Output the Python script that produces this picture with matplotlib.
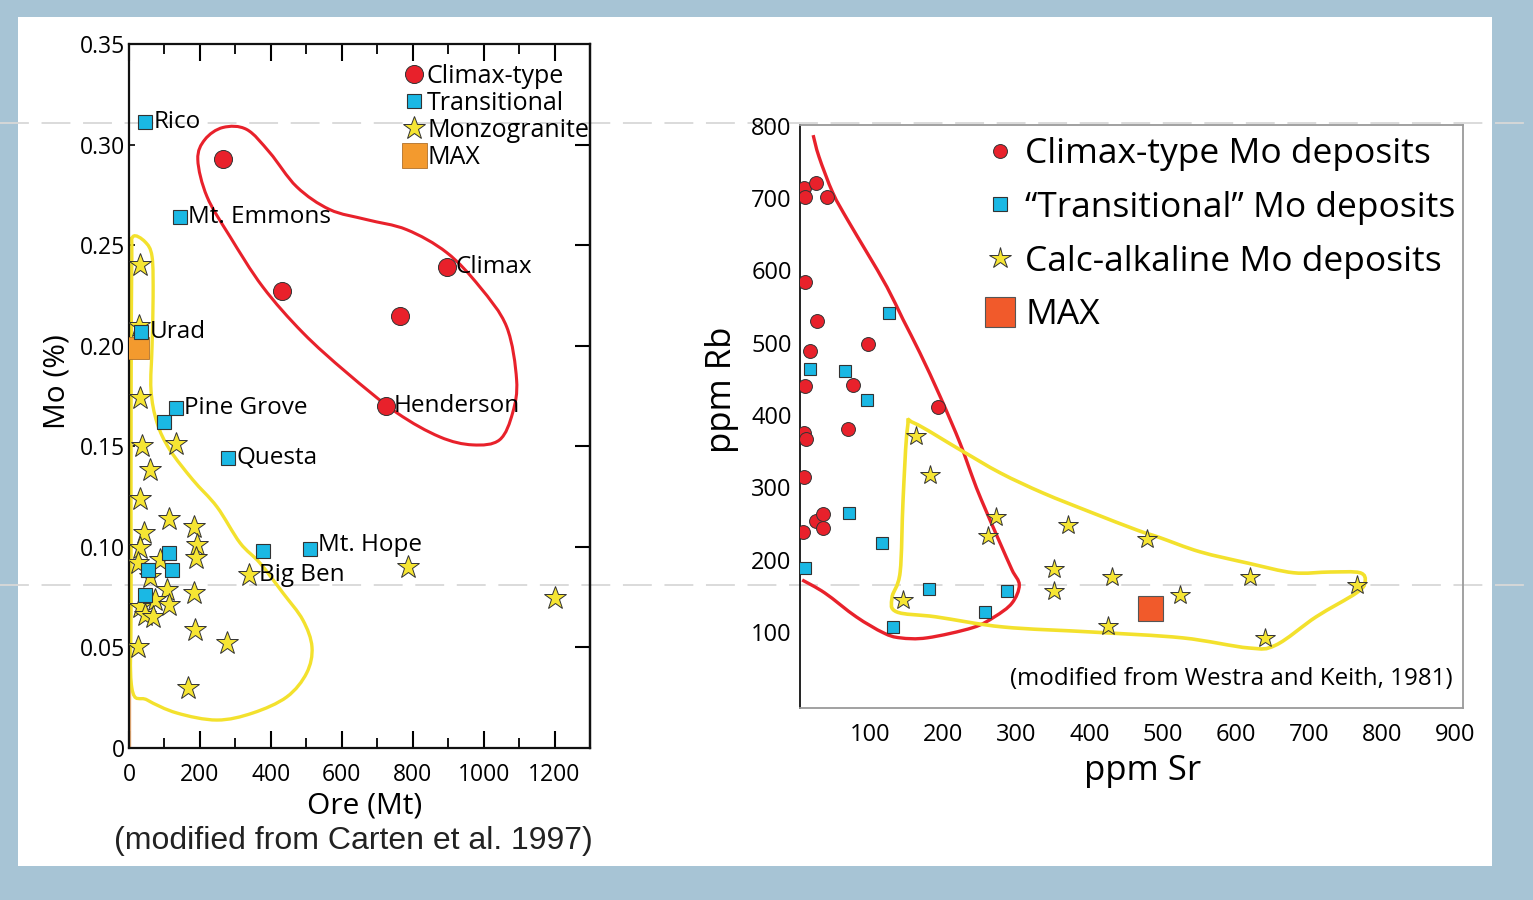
import matplotlib
matplotlib.use("Agg")
import matplotlib.pyplot as plt
from matplotlib.lines import Line2D
from matplotlib.patches import Rectangle, PathPatch
from matplotlib.path import Path

# ---------------- data: left panel (Mo grade vs ore tonnage) ----------------
climax_ore = [265, 431, 763, 896, 724]
climax_mo = [0.293, 0.227, 0.215, 0.239, 0.170]
climax_names = ["", "", "", "Climax", "Henderson"]

trans_ore = [45, 144, 34, 132, 99, 279, 377, 510, 113, 54, 121, 45]
trans_mo = [0.311, 0.264, 0.207, 0.169, 0.162, 0.144, 0.098, 0.099, 0.097, 0.0886, 0.0886, 0.076]
trans_names = ["Rico", "Mt. Emmons", "Urad", "Pine Grove", "", "Questa", "", "Mt. Hope", "", "", "", ""]

monzo_ore = [31, 28, 31, 37, 132, 59, 31, 42, 113, 183, 31, 192, 189, 25, 87, 59, 107, 183,
             31, 73, 45, 68, 113, 186, 276, 25, 166, 338, 786, 1200]
monzo_mo = [0.240, 0.210, 0.174, 0.150, 0.151, 0.138, 0.124, 0.107, 0.114, 0.110, 0.0995, 0.101,
            0.0945, 0.092, 0.0935, 0.085, 0.0786, 0.0771, 0.0701, 0.0736, 0.0662, 0.0652, 0.0711,
            0.0587, 0.0522, 0.0502, 0.0299, 0.0861, 0.090, 0.0746]
monzo_names = [""] * 27 + ["Big Ben", "", ""]

max_ore = [25]
max_mo = [0.199]

# hand-drawn outlines (data units)
red_loop_ore = [214, 265, 332, 397, 473, 566, 670, 783, 896, 989, 1065, 1093, 1082, 1045, 969,
                876, 755, 614, 490, 377, 285, 220, 194]
red_loop_mo = [0.3025, 0.3085, 0.3075, 0.296, 0.279, 0.2677, 0.2627, 0.2577, 0.2463, 0.2293,
               0.2094, 0.1831, 0.1667, 0.1532, 0.1507, 0.1547, 0.1667, 0.1866, 0.2065, 0.2293,
               0.2542, 0.2741, 0.2925]
yel_loop_ore = [11, 45, 65, 68, 65, 62, 79, 115, 180, 248, 313, 369, 434, 490, 516, 501, 445,
                349, 248, 135, 51, 8, 6, 6, 8]
yel_loop_mo = [0.2542, 0.2517, 0.2443, 0.2244, 0.1995, 0.1781, 0.1617, 0.1483, 0.1333, 0.1199,
               0.102, 0.092, 0.0771, 0.0637, 0.0502, 0.0373, 0.0254, 0.0174, 0.0139, 0.0174,
               0.0239, 0.0299, 0.0736, 0.1731, 0.2428]

x_ticks_left = [0, 200, 400, 600, 800, 1000, 1200]
y_ticks_left = [0, 0.05, 0.10, 0.15, 0.20, 0.25, 0.30, 0.35]
y_ticklabels_left = ["0", "0.05", "0.10", "0.15", "0.20", "0.25", "0.30", "0.35"]

# ---------------- data: right panel (Rb vs Sr) ----------------
cl_sr = [10, 26, 11, 41, 11, 27, 17, 97, 11, 77, 193, 70, 10, 12, 10, 8, 26, 36, 36]
cl_rb = [714, 721, 702, 702, 584, 530, 489, 498, 440, 442, 411, 381, 375, 367, 314, 238, 254, 263, 244]

tr_sr = [126, 18, 66, 96, 71, 116, 11, 181, 287, 257, 131]
tr_rb = [541, 464, 461, 421, 265, 223, 189, 159, 157, 128, 107]

ca_sr = [163, 182, 272, 261, 371, 479, 352, 352, 431, 524, 620, 766, 145, 426, 640]
ca_rb = [371, 317, 259, 233, 248, 229, 187, 157, 176, 151, 176, 165, 144, 108, 92]

mx_sr = [483]
mx_rb = [133]

red_line_sr = [22, 30, 49, 69, 96, 123, 145, 168, 196, 223, 240, 252, 276, 294, 304, 294, 270,
               240, 178, 141, 118, 81, 38, 7]
red_line_rb = [787, 757, 707, 670, 624, 577, 532, 486, 425, 361, 314, 283, 227, 186, 165, 140,
               121, 106, 92, 92, 99, 121, 154, 172]
yel_poly_sr = [160, 223, 278, 337, 401, 465, 495, 551, 618, 679, 729, 770, 777, 765, 710, 655,
               618, 527, 404, 282, 190, 136, 130, 141, 145, 151]
yel_poly_rb = [389, 352, 320, 292, 266, 241, 231, 211, 195, 182, 183, 182, 169, 154, 121, 82,
               78, 92, 100, 107, 121, 128, 148, 183, 283, 382]

x_ticks_right = [100, 200, 300, 400, 500, 600, 700, 800, 900]
y_ticks_right = [100, 200, 300, 400, 500, 600, 700, 800]


def smooth_path(xs, ys, closed):
    """Catmull-Rom outline through the given vertices, as cubic Bezier path."""
    pts = list(zip(xs, ys))
    n = len(pts)
    if closed:
        get = lambda i: pts[i % n]
        nseg = n
    else:
        get = lambda i: pts[min(max(i, 0), n - 1)]
        nseg = n - 1
    verts = [pts[0]]
    codes = [Path.MOVETO]
    for i in range(nseg):
        p0, p1, p2, p3 = get(i - 1), get(i), get(i + 1), get(i + 2)
        c1 = (p1[0] + (p2[0] - p0[0]) / 6, p1[1] + (p2[1] - p0[1]) / 6)
        c2 = (p2[0] - (p3[0] - p1[0]) / 6, p2[1] - (p3[1] - p1[1]) / 6)
        verts += [c1, c2, p2]
        codes += [Path.CURVE4] * 3
    return Path(verts, codes)


# ---------------- style ----------------
FONT = ["Open Sans", "DejaVu Sans"]
plt.rcParams["font.family"] = FONT
RED = "#e8212b"
BLUE = "#1ab8e4"
YEL = "#f6e533"
YLINE = "#f3e12d"
ORANGE = "#f39a2e"
ORANGE_R = "#f15a2b"
EDGE = "#333333"

W, H = 1533, 900
fig = plt.figure(figsize=(W / 100, H / 100), dpi=100)
fig.patch.set_facecolor("#a7c4d5")
fig.patches.append(Rectangle((18 / W, 1 - 866 / H), (1492 - 18) / W, (866 - 17) / H,
                             transform=fig.transFigure, facecolor="white", edgecolor="none", zorder=-3))
for yy in (123, 585):
    fig.lines.append(Line2D([0, 1], [1 - yy / H] * 2, transform=fig.transFigure, color="#d8d8d8",
                            lw=1.3, dashes=(16, 7), zorder=-2))

# ================= left panel =================
ax = fig.add_axes([129 / W, 1 - 748 / H, 461 / W, 704 / H])
ax.set_facecolor("none")
ax.set_xlim(0, 1300)
ax.set_ylim(0, 0.35)
for s in ax.spines.values():
    s.set_linewidth(1.6)
    s.set_color("#111111")

ax.add_patch(PathPatch(smooth_path(red_loop_ore, red_loop_mo, True), fill=False,
                       edgecolor=RED, lw=2.2, zorder=2))
ax.add_patch(PathPatch(smooth_path(yel_loop_ore, yel_loop_mo, True), fill=False,
                       edgecolor=YLINE, lw=2.4, zorder=2))
ax.plot([3, 3], [0, 0.195], color="#f0b27a", lw=1.0, zorder=1)

ax.plot(monzo_ore, monzo_mo, ls="none", marker="*", ms=17, mfc=YEL, mec=EDGE, mew=0.7, zorder=3)
ax.plot(max_ore, max_mo, ls="none", marker="s", ms=16, mfc=ORANGE, mec="#b0702a", mew=0.6, zorder=4)
ax.plot(trans_ore, trans_mo, ls="none", marker="s", ms=10, mfc=BLUE, mec=EDGE, mew=0.8, zorder=5)
ax.plot(climax_ore, climax_mo, ls="none", marker="o", ms=13, mfc=RED, mec=EDGE, mew=0.7, zorder=5)

LBL = 17.5
for xo, yo, nm in zip(trans_ore, trans_mo, trans_names):
    if nm:
        dy = 3 if nm == "Mt. Hope" else 0
        ax.annotate(nm, (xo, yo), xytext=(6, dy), textcoords="offset points", va="center",
                    ha="left", fontsize=LBL, zorder=6)
for xo, yo, nm in zip(climax_ore, climax_mo, climax_names):
    if nm:
        ax.annotate(nm, (xo, yo), xytext=(6, 0), textcoords="offset points", va="center",
                    ha="left", fontsize=LBL, zorder=6)
for xo, yo, nm in zip(monzo_ore, monzo_mo, monzo_names):
    if nm:
        ax.annotate(nm, (xo, yo), xytext=(7, 0), textcoords="offset points", va="center",
                    ha="left", fontsize=LBL, zorder=6)

ax.set_xticks(x_ticks_left)
ax.set_xticks(list(range(100, 1301, 200)), minor=True)
ax.set_yticks(y_ticks_left)
ax.set_yticklabels(y_ticklabels_left)
ax.tick_params(axis="x", which="major", direction="in", length=12, width=1.5, top=True,
               labelsize=16.5, pad=11)
ax.tick_params(axis="x", which="minor", direction="in", length=7, width=1.3, top=True)
ax.tick_params(axis="y", which="major", direction="in", length=4, width=1.2, labelsize=16.5, pad=3)
sec = ax.secondary_yaxis("right")
sec.set_yticks([0.05, 0.10, 0.15, 0.20, 0.25, 0.30])
sec.tick_params(direction="in", length=11, width=1.5, labelright=False)
sec.spines["right"].set_linewidth(1.6)

ax.set_xlabel("Ore (Mt)", fontsize=21.5, va="center")
ax.xaxis.set_label_coords(0.512, -0.083)
ax.set_ylabel("Mo (%)", fontsize=21.5, va="center")
ax.yaxis.set_label_coords(-0.156, 0.52)

leg1_handles = [
    Line2D([], [], ls="none", marker="o", ms=13, mfc=RED, mec=EDGE, mew=0.7),
    Line2D([], [], ls="none", marker="s", ms=10, mfc=BLUE, mec=EDGE, mew=0.8),
    Line2D([], [], ls="none", marker="*", ms=17, mfc=YEL, mec=EDGE, mew=0.7),
    Line2D([], [], ls="none", marker="s", ms=18, mfc=ORANGE, mec="#b0702a", mew=0.6),
]
leg1 = ax.legend(leg1_handles, ["Climax-type", "Transitional", "Monzogranite", "MAX"],
                 loc="upper left", bbox_to_anchor=((404 - 129) / 461, (748 - 64) / 704),
                 frameon=False, fontsize=18, handlelength=0.8, handletextpad=0.12,
                 labelspacing=0.08, borderpad=0, borderaxespad=0)

fig.text(353 / W, 1 - 841 / H, "(modified from Carten et al. 1997)", ha="center", va="center",
         fontsize=23, family=["Liberation Sans", "DejaVu Sans"], color="#222222")

# ================= right panel =================
ax2 = fig.add_axes([800 / W, 1 - 708 / H, 663 / W, 583 / H])
ax2.set_facecolor("none")
ax2.set_xlim(4, 911)
ax2.set_ylim(-5, 801)
for k, s in ax2.spines.items():
    s.set_linewidth(1.3)
    s.set_color("#111111" if k == "left" else "#9a9a9a")

ax2.add_patch(PathPatch(smooth_path(red_line_sr, red_line_rb, False), fill=False,
                        edgecolor=RED, lw=2.4, zorder=2))
ax2.add_patch(PathPatch(smooth_path(yel_poly_sr, yel_poly_rb, True), fill=False,
                        edgecolor=YLINE, lw=2.6, zorder=2))
ax2.plot(ca_sr, ca_rb, ls="none", marker="*", ms=15, mfc=YEL, mec=EDGE, mew=0.7, zorder=3)
ax2.plot(mx_sr, mx_rb, ls="none", marker="s", ms=18, mfc=ORANGE_R, mec="#555555", mew=0.8, zorder=4)
ax2.plot(tr_sr, tr_rb, ls="none", marker="s", ms=9, mfc=BLUE, mec=EDGE, mew=0.8, zorder=5)
ax2.plot(cl_sr, cl_rb, ls="none", marker="o", ms=10, mfc=RED, mec=EDGE, mew=0.7, zorder=5)

ax2.set_xticks(x_ticks_right)
ax2.set_yticks(y_ticks_right)
ax2.tick_params(length=0, labelsize=17)
ax2.tick_params(axis="x", pad=11)
ax2.tick_params(axis="y", pad=6)

ax2.set_xlabel("ppm Sr", fontsize=25, va="center")
ax2.xaxis.set_label_coords(0.517, -0.108)
ax2.set_ylabel("ppm Rb", fontsize=25, va="center")
ax2.yaxis.set_label_coords(-0.118, 0.545)

ax2.text(0.985, 0.05, "(modified from Westra and Keith, 1981)", transform=ax2.transAxes,
         ha="right", va="center", fontsize=17.4)

leg2_handles = [
    Line2D([], [], ls="none", marker="o", ms=10, mfc=RED, mec=EDGE, mew=0.7),
    Line2D([], [], ls="none", marker="s", ms=10, mfc=BLUE, mec=EDGE, mew=0.8),
    Line2D([], [], ls="none", marker="*", ms=16, mfc=YEL, mec=EDGE, mew=0.7),
    Line2D([], [], ls="none", marker="s", ms=21, mfc=ORANGE_R, mec="#555555", mew=0.8),
]
ax2.legend(leg2_handles, ["Climax-type Mo deposits", "\u201cTransitional\u201d Mo deposits",
                          "Calc-alkaline Mo deposits", "MAX"],
           loc="upper left", bbox_to_anchor=((986 - 800) / 663, (708 - 137) / 583),
           frameon=False, fontsize=25.5, handlelength=0.8, handletextpad=0.31,
           labelspacing=0.56, borderpad=0, borderaxespad=0)

fig.savefig("out.png", dpi=100, facecolor=fig.get_facecolor())
